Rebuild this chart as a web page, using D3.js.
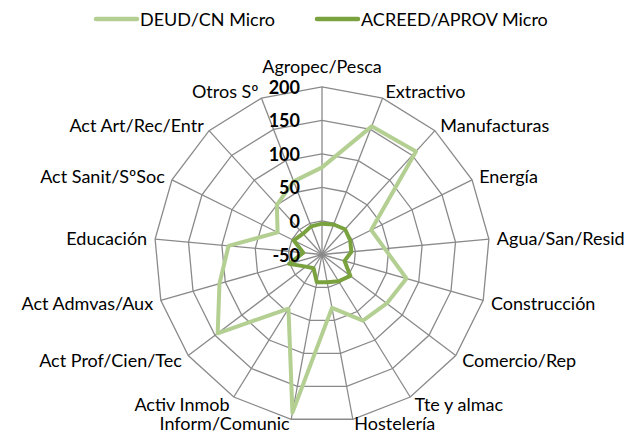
<!DOCTYPE html>
<html>
<head>
<meta charset="utf-8">
<script src="https://cdn.jsdelivr.net/npm/d3@7"></script>
<style>
  html, body { margin: 0; padding: 0; background: #fff; }
  svg { display: block; font-family: Lato, "Open Sans", sans-serif; }
</style>
</head>
<body>
<div id="main"></div>
<script>
// categories, clockwise from the top
var categories = ['Agropec/Pesca', 'Extractivo', 'Manufacturas', 'Energía', 'Agua/San/Resid',
    'Construcción', 'Comercio/Rep', 'Tte y almac', 'Hostelería', 'Inform/Comunic',
    'Activ Inmob', 'Act Prof/Cien/Tec', 'Act Admvas/Aux', 'Educación', 'Act Sanit/SºSoc',
    'Act Art/Rec/Entr', 'Otros Sº'];

var deudMicro = [80, 155, 158, 32, 44, 81, 71, 66, 31, 190, 45, 145, 109, 90, 24, 50, 67];
var acreedMicro = [-4, -2, 1, -3, -6, -15, 3, -3, -8, -8, -26, -20, 1, -22, -3, -8, -5];

var seriesNames = ['DEUD/CN Micro', 'ACREED/APROV Micro'];
var tickValues = [-50, 0, 50, 100, 150, 200];

var colors = ['#B4CF92', '#7AA23E'];

var width = 635, height = 435;
var cx = 322, cy = 254.5, radius = 167.6;

var svg = d3.select('#main').append('svg')
    .attr('width', width)
    .attr('height', height);

var rScale = d3.scaleLinear().domain([-50, 200]).range([0, radius]);
var aScale = d3.scaleLinear().domain([0, categories.length]).range([0, 2 * Math.PI]);

var chart = svg.append('g')
    .attr('transform', 'translate(' + cx + ',' + cy + ')');

// grid rings (polygons)
var ringLine = d3.lineRadial()
    .angle(function (d, i) { return aScale(i); })
    .curve(d3.curveLinearClosed);

chart.selectAll('.ring')
    .data(tickValues.slice(1))
    .enter()
    .append('path')
    .attr('class', 'ring')
    .attr('d', function (v) {
        return ringLine.radius(rScale(v))(categories);
    })
    .attr('fill', 'none')
    .attr('stroke', '#8a8a8a')
    .attr('stroke-width', 1.3);

// spokes
chart.selectAll('.spoke')
    .data(categories)
    .enter()
    .append('line')
    .attr('class', 'spoke')
    .attr('x1', 0).attr('y1', 0)
    .attr('x2', function (d, i) { return rScale(200) * Math.sin(aScale(i)); })
    .attr('y2', function (d, i) { return -rScale(200) * Math.cos(aScale(i)); })
    .attr('stroke', '#8a8a8a')
    .attr('stroke-width', 1.3);

// category labels
chart.selectAll('.cat')
    .data(categories)
    .enter()
    .append('text')
    .attr('class', 'cat')
    .attr('x', function (d, i) { return (radius + 8) * Math.sin(aScale(i)); })
    .attr('y', function (d, i) {
        var s = Math.sin(aScale(i)), c = Math.cos(aScale(i));
        var y = -(radius + 8) * c;
        if (Math.abs(s) < 0.1) return y - 6;
        if (c < -0.9) return y - 4; // keep the bottom pair inside the frame
        return y;
    })
    .attr('text-anchor', function (d, i) {
        var s = Math.sin(aScale(i));
        return s > 0.1 ? 'start' : (s < -0.1 ? 'end' : 'middle');
    })
    .attr('dominant-baseline', function (d, i) {
        return Math.abs(Math.sin(aScale(i))) < 0.1 ? 'auto' : 'central';
    })
    .attr('font-size', '18px')
    .attr('fill', '#000')
    .text(function (d) { return d; });

// series lines
var seriesLine = d3.lineRadial()
    .angle(function (d, i) { return aScale(i); })
    .radius(function (d) { return rScale(d); })
    .curve(d3.curveLinearClosed);

chart.selectAll('.series')
    .data([deudMicro, acreedMicro])
    .enter()
    .append('path')
    .attr('class', 'series')
    .attr('d', function (d) { return seriesLine(d); })
    .attr('fill', 'none')
    .attr('stroke', function (d, i) { return colors[i]; })
    .attr('stroke-width', 4)
    .attr('stroke-linejoin', 'round');

// tick labels
chart.selectAll('.tick')
    .data(tickValues)
    .enter()
    .append('text')
    .attr('class', 'tick')
    .attr('x', -22)
    .attr('y', function (v) { return -rScale(v); })
    .attr('text-anchor', 'end')
    .attr('dominant-baseline', 'central')
    .attr('font-size', '18px')
    .attr('font-weight', 'bold')
    .text(function (v) { return v; });

// legend
var legendX = [94, 315];
var legend = svg.selectAll('.legend')
    .data(seriesNames)
    .enter()
    .append('g')
    .attr('class', 'legend')
    .attr('transform', function (d, i) { return 'translate(' + legendX[i] + ',19)'; });

legend.append('line')
    .attr('x1', 2).attr('x2', 43)
    .attr('y1', 0).attr('y2', 0)
    .attr('stroke', function (d, i) { return colors[i]; })
    .attr('stroke-width', 4.5)
    .attr('stroke-linecap', 'round');

legend.append('text')
    .attr('x', 46)
    .attr('y', 0)
    .attr('dominant-baseline', 'central')
    .attr('font-size', '18px')
    .text(function (d) { return d; });
</script>
</body>
</html>
